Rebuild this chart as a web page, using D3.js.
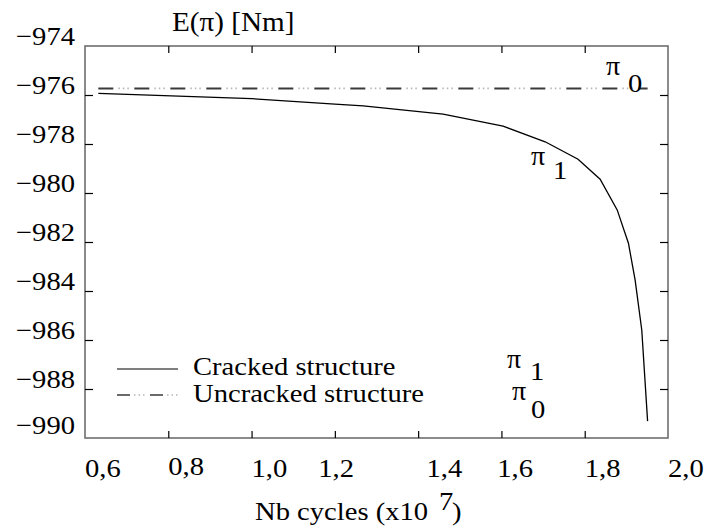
<!DOCTYPE html>
<html>
<head>
<meta charset="utf-8">
<script src="https://cdn.jsdelivr.net/npm/d3@7"></script>
<style>
html,body{margin:0;padding:0;background:#fff;}
</style>
</head>
<body>
<svg id="chart" width="715" height="529"></svg>
<script>
// ---- data ----
const cycles    = [0.632, 1.0, 1.2, 1.268, 1.46, 1.604, 1.705, 1.784, 1.837, 1.878, 1.905, 1.921, 1.937, 1.951];
const crackedE  = [-975.93, -976.15, -976.37, -976.44, -976.78, -977.27, -977.91, -978.62, -979.44, -980.69, -982.05, -983.55, -985.59, -989.31];
const uncrackedCycles = [0.632, 1.951];
const uncrackedE      = [-975.73, -975.73];
const xTickValues = [0.8, 1.0, 1.2, 1.4, 1.6, 1.8];
const xTickLabels = ["0,6", "0,8", "1,0", "1,2", "1,4", "1,6", "1,8", "2,0"];
const xLabelAt    = [0.6, 0.8, 1.0, 1.16, 1.42, 1.59, 1.8, 2.0];
const yTickValues = [-976, -978, -980, -982, -984, -986, -988];
const yLabelValues = [-974, -976, -978, -980, -982, -984, -986, -988, -990];
const yTickLabels  = ["\u2212974", "\u2212976", "\u2212978", "\u2212980", "\u2212982", "\u2212984", "\u2212986", "\u2212988", "\u2212990"];
const legendLabels = ["Cracked structure", "Uncracked structure"];

// ---- layout ----
const FONT = "'Liberation Serif', 'Times New Roman', Times, 'DejaVu Serif', serif";
const svg = d3.select("#chart");
const L = 85, R = 668, T = 46, B = 438;
const x = d3.scaleLinear().domain([0.6, 2.0]).range([L, R]);
const y = d3.scaleLinear().domain([-990, -974]).range([B, T]);
const SX = 1.1;

function stext(g, px, py, str, size, anchor, sx) {
  return g.append("text")
    .attr("transform", `translate(${px},${py}) scale(${sx || SX},1)`)
    .attr("text-anchor", anchor || "start")
    .attr("font-family", FONT)
    .attr("font-size", size)
    .attr("fill", "#000")
    .text(str);
}

// frame
svg.append("rect").attr("x", L).attr("y", T).attr("width", R - L).attr("height", B - T)
  .attr("fill", "none").attr("stroke", "#6e6e6e").attr("stroke-width", 1.6);

// ticks (inward), no labels
function styleAxis(g) {
  g.select(".domain").remove();
  g.selectAll(".tick line").attr("stroke", "#000").attr("stroke-width", 1.2);
  g.selectAll(".tick text").remove();
}
svg.append("g").attr("transform", `translate(0,${B})`)
  .call(d3.axisBottom(x).tickValues(xTickValues).tickSize(-7).tickFormat("")).call(styleAxis);
svg.append("g").attr("transform", `translate(0,${T})`)
  .call(d3.axisTop(x).tickValues(xTickValues).tickSize(-7).tickFormat("")).call(styleAxis);
svg.append("g").attr("transform", `translate(${L},0)`)
  .call(d3.axisLeft(y).tickValues(yTickValues).tickSize(-8).tickFormat("")).call(styleAxis);
svg.append("g").attr("transform", `translate(${R},0)`)
  .call(d3.axisRight(y).tickValues(yTickValues).tickSize(-8).tickFormat("")).call(styleAxis);

// tick labels
const lab = svg.append("g");
yLabelValues.forEach((v, i) => stext(lab, 75, y(v) - (i === yLabelValues.length - 1 ? 4 : 1), yTickLabels[i], 26, "end"));
xTickLabels.forEach((t, i) => stext(lab, x(xLabelAt[i]), i === 1 ? 475 : 477, t, 26, "start"));

// titles
stext(svg, 172, 31, "E(\u03c0) [Nm]", 27, "start", 1.08);
stext(svg, 255, 520, "Nb cycles (x10", 26, "start");
stext(svg, 439, 510, "7", 26, "start");
stext(svg, 452, 520, ")", 26, "start");

// uncracked line (dash + light dots)
const lineU = d3.line().x(d => x(d[0])).y(d => y(d[1]));
const uPts = d3.zip(uncrackedCycles, uncrackedE);
svg.append("path").attr("d", lineU(uPts)).attr("fill", "none")
  .attr("stroke", "#b5b5b5").attr("stroke-width", 1.6)
  .attr("stroke-dasharray", "0,20,1.5,3,1.5,3,1.5,5.5");
svg.append("path").attr("d", lineU(uPts)).attr("fill", "none")
  .attr("stroke", "#3a3a3a").attr("stroke-width", 2)
  .attr("stroke-dasharray", "15,21");

// cracked curve
const cPts = d3.zip(cycles, crackedE);
svg.append("path").attr("d", lineU(cPts)).attr("fill", "none")
  .attr("stroke", "#000").attr("stroke-width", 1.3);

// pi labels on the plot
stext(svg, 606, 75, "\u03c0", 28, "start", 1.0);
stext(svg, 628, 92, "0", 26, "start");
stext(svg, 531, 165, "\u03c0", 28, "start", 1.0);
stext(svg, 553, 179, "1", 26, "start");

// legend
const leg = svg.append("g");
leg.append("line").attr("x1", 117).attr("x2", 178).attr("y1", 369).attr("y2", 369)
  .attr("stroke", "#000").attr("stroke-width", 1.2);
leg.append("line").attr("x1", 117).attr("x2", 178).attr("y1", 395).attr("y2", 395)
  .attr("stroke", "#b5b5b5").attr("stroke-width", 1.4).attr("stroke-dasharray", "0,17,1.5,3,1.5,3,1.5,5.5");
leg.append("line").attr("x1", 117).attr("x2", 178).attr("y1", 395).attr("y2", 395)
  .attr("stroke", "#3a3a3a").attr("stroke-width", 1.6).attr("stroke-dasharray", "13,20");
stext(leg, 193, 375, legendLabels[0], 26, "start", 1.1);
stext(leg, 193, 402, legendLabels[1], 26, "start", 1.1);
stext(leg, 507, 368, "\u03c0", 28, "start", 1.0);
stext(leg, 530, 380, "1", 26, "start");
stext(leg, 512, 400, "\u03c0", 28, "start", 1.0);
stext(leg, 531, 418, "0", 26, "start");
</script>
</body>
</html>
